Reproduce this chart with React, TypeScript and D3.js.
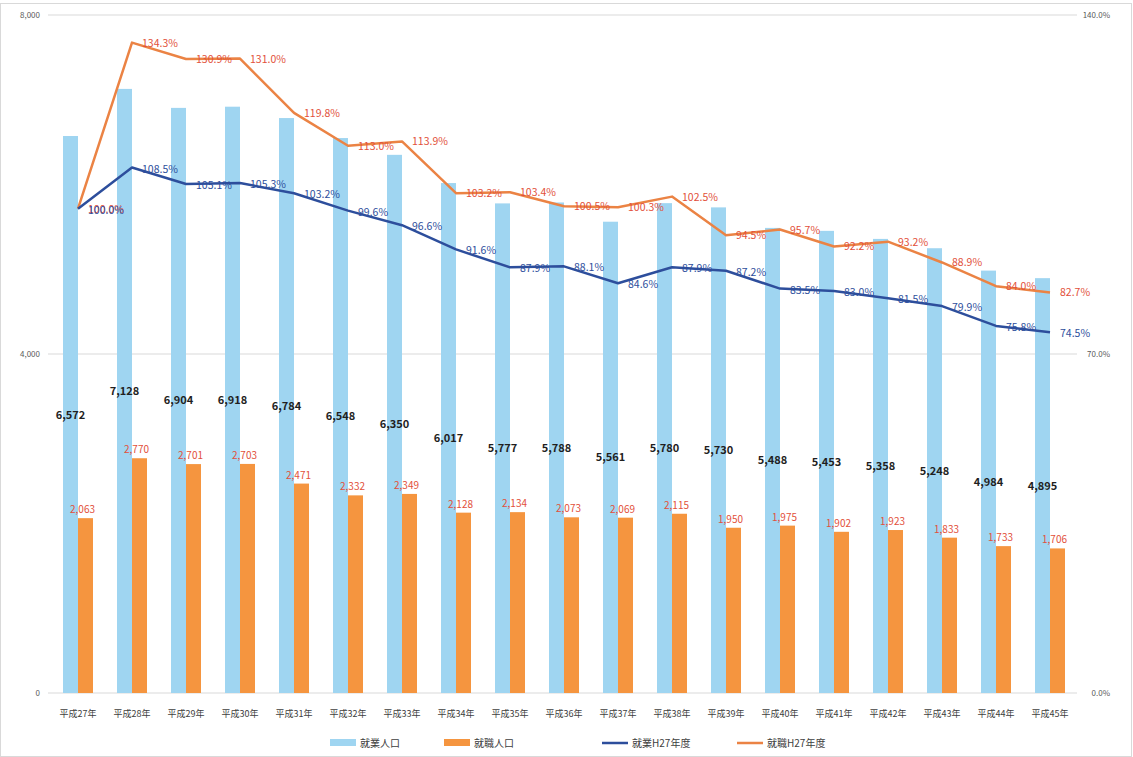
import React from "react";
import * as d3 from "d3";

// categories (x axis)
const years = [
  "平成27年", "平成28年", "平成29年", "平成30年", "平成31年", "平成32年", "平成33年",
  "平成34年", "平成35年", "平成36年", "平成37年", "平成38年", "平成39年", "平成40年",
  "平成41年", "平成42年", "平成43年", "平成44年", "平成45年",
];

// bar series (left axis)
const popA = [6572, 7128, 6904, 6918, 6784, 6548, 6350, 6017, 5777, 5788, 5561, 5780, 5730, 5488, 5453, 5358, 5248, 4984, 4895];
const popB = [2063, 2770, 2701, 2703, 2471, 2332, 2349, 2128, 2134, 2073, 2069, 2115, 1950, 1975, 1902, 1923, 1833, 1733, 1706];

// line series (right axis, ratio to H27)
const ratioA = [100.0, 108.5, 105.1, 105.3, 103.2, 99.6, 96.6, 91.6, 87.9, 88.1, 84.6, 87.9, 87.2, 83.5, 83.0, 81.5, 79.9, 75.8, 74.5];
const ratioB = [100.0, 134.3, 130.9, 131.0, 119.8, 113.0, 113.9, 103.2, 103.4, 100.5, 100.3, 102.5, 94.5, 95.7, 92.2, 93.2, 88.9, 84.0, 82.7];

const leftTicks = [0, 4000, 8000];
const rightTicks = [0, 70, 140];

const seriesNames = ["就業人口", "就職人口", "就業H27年度", "就職H27年度"];

const W = 1133;
const H = 757;
const FONT = "'Noto Sans CJK JP', 'Noto Sans', sans-serif";

const C_BAR_A = "#9FD5F1";
const C_BAR_B = "#F5953F";
const C_LINE_A = "#2D4E9C";
const C_LINE_B = "#EB8344";
const C_LBL_B = "#E2503A";

export default function App() {
  const x = d3.scaleBand<string>().domain(years).range([51, 1077]).padding(0);
  const sub = d3.scaleBand<string>().domain(["a", "b"]).range([12, 42]).padding(0);
  const yL = d3.scaleLinear().domain([0, 8000]).range([693, 15]);
  const yR = d3.scaleLinear().domain([0, 140]).range([693, 15]);
  const cx = (i: number) => (x(years[i]) as number) + x.bandwidth() / 2;
  const fmt = d3.format(",");

  const lineGen = (vals: number[]) =>
    d3.line<number>().x((_, i) => cx(i)).y((d) => yR(d))(vals) as string;

  const bw = sub.bandwidth();

  return (
    <svg
      width={W}
      height={H}
      style={{ position: "absolute", left: 0, top: 0, background: "#fff" }}
      fontFamily={FONT}
    >
      <rect x={0.5} y={3.5} width={W - 2} height={H - 4} fill="#fff" stroke="#D9D9D9" />

      {/* gridlines */}
      {leftTicks.map((t) => (
        <line key={t} x1={48} x2={1077} y1={yL(t)} y2={yL(t)} stroke="#D9D9D9" strokeWidth={1} />
      ))}

      {/* left axis labels */}
      {leftTicks.map((t) => (
        <text key={t} x={40} y={yL(t) + 3} textAnchor="end" fontSize={8} fill="#595959">
          {fmt(t)}
        </text>
      ))}
      {/* right axis labels */}
      {rightTicks.map((t) => (
        <text key={t} x={1110} y={yR(t) + 3} textAnchor="end" fontSize={8} fill="#595959">
          {t.toFixed(1)}%
        </text>
      ))}

      {/* bars */}
      {years.map((yr, i) => (
        <g key={yr} transform={`translate(${x(yr)},0)`}>
          <rect x={sub("a")} y={yL(popA[i])} width={bw} height={yL(0) - yL(popA[i])} fill={C_BAR_A} />
          <rect x={sub("b")} y={yL(popB[i])} width={bw} height={yL(0) - yL(popB[i])} fill={C_BAR_B} />
        </g>
      ))}

      {/* bar value labels */}
      {years.map((yr, i) => (
        <g key={"l" + yr}>
          <text
            x={(x(yr) as number) + (sub("a") as number) + bw / 2}
            y={yL(popA[i] / 2) + 4}
            textAnchor="middle"
            fontSize={11}
            fontWeight="bold"
            fill="#1F1F1F"
          >
            {fmt(popA[i])}
          </text>
          <text
            x={(x(yr) as number) + (sub("b") as number) + bw / 2 - 3}
            y={yL(popB[i]) - 5}
            textAnchor="middle"
            fontSize={10}
            fill={C_LBL_B}
          >
            {fmt(popB[i])}
          </text>
        </g>
      ))}

      {/* lines */}
      <path d={lineGen(ratioB)} fill="none" stroke={C_LINE_B} strokeWidth={2.5} strokeLinejoin="round" />
      <path d={lineGen(ratioA)} fill="none" stroke={C_LINE_A} strokeWidth={2.5} strokeLinejoin="round" />

      {/* line value labels */}
      {ratioB.map((v, i) => (
        <text key={"rb" + i} x={cx(i) + 10} y={yR(v) + 4} fontSize={10.5} fill={C_LBL_B}>
          {v.toFixed(1)}%
        </text>
      ))}
      {ratioA.map((v, i) => (
        <text key={"ra" + i} x={cx(i) + 10} y={yR(v) + 5} fontSize={10.5} fill={C_LINE_A}>
          {v.toFixed(1)}%
        </text>
      ))}

      {/* x axis labels */}
      {years.map((yr, i) => (
        <text key={"x" + yr} x={cx(i)} y={717} textAnchor="middle" fontSize={9} fill="#404040">
          {yr}
        </text>
      ))}

      {/* legend */}
      <g fontSize={10} fill="#404040">
        <rect x={330} y={739} width={26} height={7} fill={C_BAR_A} />
        <text x={360} y={747}>{seriesNames[0]}</text>
        <rect x={444} y={739} width={26} height={7} fill={C_BAR_B} />
        <text x={474} y={747}>{seriesNames[1]}</text>
        <line x1={602} x2={628} y1={743} y2={743} stroke={C_LINE_A} strokeWidth={2.5} />
        <text x={632} y={747}>{seriesNames[2]}</text>
        <line x1={737} x2={763} y1={743} y2={743} stroke={C_LINE_B} strokeWidth={2.5} />
        <text x={767} y={747}>{seriesNames[3]}</text>
      </g>
    </svg>
  );
}
